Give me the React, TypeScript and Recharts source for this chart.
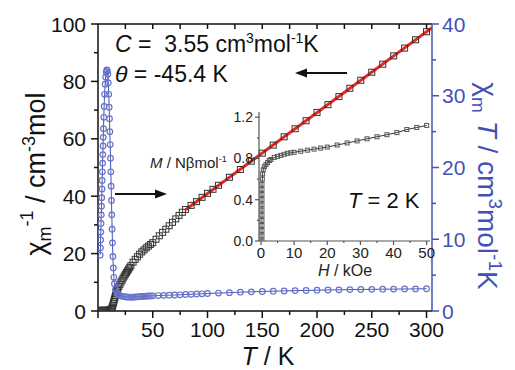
import React from 'react';
import { ComposedChart, LineChart, Line, XAxis, YAxis } from 'recharts';

// chi_m^-1 (left axis) vs T
const blackT = [2, 3, 4, 5, 6, 7, 8, 9, 10, 11, 12, 12.5, 13, 13.5, 14, 14.5, 15, 15.5, 16, 16.5, 17, 17.5, 18, 19, 20, 21, 22, 23, 24, 25, 26, 27, 28, 29, 30, 32, 34, 36, 38, 40, 42, 44, 46, 48, 50, 53, 56, 59, 62, 65, 68, 71, 74, 77, 80, 85, 90, 95, 100, 105, 110, 120, 130, 140, 150, 160, 170, 180, 190, 200, 210, 220, 230, 240, 250, 260, 270, 280, 290, 300];
const blackInv = [0.26, 0.25, 0.22, 0.2, 0.2, 0.22, 0.25, 0.26, 0.3, 0.42, 0.6, 0.9, 1.4, 2.0, 2.7, 3.4, 4.1, 4.8, 5.4, 6.0, 6.6, 7.1, 7.6, 8.5, 9.3, 10.1, 10.8, 11.5, 12.2, 12.8, 13.4, 14.0, 14.6, 15.2, 15.8, 17.0, 18.0, 18.9, 19.8, 20.6, 21.3, 22.0, 22.6, 23.2, 23.8, 25.0, 26.2, 27.4, 28.5, 29.7, 30.9, 32.1, 33.3, 34.4, 35.4, 36.8, 38.1, 39.6, 41.0, 42.4, 43.8, 46.6, 49.3, 52.2, 55.0, 57.8, 60.7, 63.5, 66.3, 69.2, 71.9, 74.7, 77.6, 80.4, 83.2, 86.0, 88.9, 91.6, 94.5, 97.3];

// chi_m T (right axis) vs T
const blueT = [2, 2.2, 2.4, 2.6, 2.8, 3, 3.2, 3.4, 3.6, 3.8, 4, 4.2, 4.4, 4.6, 4.8, 5, 5.3, 5.6, 6, 6.5, 7, 7.5, 8, 8.5, 9, 9.4, 9.8, 10.2, 10.5, 10.8, 11.1, 11.4, 11.7, 12, 12.3, 12.6, 12.9, 13.2, 13.6, 14, 14.5, 15, 16, 17, 18, 19, 20, 22, 24, 26, 28, 30, 32, 34, 36, 38, 40, 42, 44, 46, 48, 50, 55, 60, 65, 70, 75, 80, 85, 90, 95, 100, 110, 120, 130, 140, 150, 160, 170, 180, 190, 200, 210, 220, 230, 240, 250, 260, 270, 280, 290, 300];
const blueChiT = [7.8, 8.8, 9.9, 11.0, 12.2, 13.4, 14.6, 15.8, 17.0, 18.2, 19.4, 20.6, 21.8, 23.0, 24.2, 25.4, 27.0, 28.5, 30.2, 31.6, 32.6, 33.3, 33.6, 33.5, 33.0, 31.8, 30.2, 28.4, 26.8, 25.0, 23.2, 21.3, 19.4, 17.4, 15.4, 13.4, 11.4, 9.5, 7.6, 6.0, 4.7, 3.8, 3.0, 2.6, 2.4, 2.25, 2.15, 2.05, 2.0, 1.95, 1.93, 1.92, 1.93, 1.95, 1.97, 2.0, 2.02, 2.05, 2.07, 2.09, 2.1, 2.12, 2.15, 2.18, 2.2, 2.23, 2.26, 2.3, 2.33, 2.37, 2.4, 2.44, 2.5, 2.56, 2.62, 2.67, 2.72, 2.76, 2.8, 2.84, 2.87, 2.9, 2.93, 2.95, 2.98, 3.0, 3.02, 3.04, 3.05, 3.07, 3.08, 3.1];

// Curie-Weiss fit line end points
const fitT = [80, 305];
const fitInv = [35.3, 98.7];

// inset: M vs H at 2 K
const insetH = [0.3, 0.3, 0.3, 0.3, 0.3, 0.3, 0.3, 0.3, 0.3, 0.3, 0.3, 0.3, 0.4, 0.5, 0.7, 1, 1.5, 2, 2.5, 3, 4, 5, 6, 7, 8, 9, 10, 12, 14, 16, 18, 20, 23, 26, 29, 32, 35, 38, 41, 44, 47, 50];
const insetM = [0, 0.05, 0.1, 0.15, 0.2, 0.25, 0.3, 0.35, 0.4, 0.45, 0.5, 0.55, 0.6, 0.65, 0.69, 0.72, 0.74, 0.76, 0.78, 0.79, 0.81, 0.82, 0.83, 0.84, 0.85, 0.855, 0.86, 0.87, 0.88, 0.89, 0.9, 0.91, 0.93, 0.95, 0.97, 0.99, 1.01, 1.03, 1.05, 1.08, 1.1, 1.12];

const xTicks = [0, 25, 50, 75, 100, 125, 150, 175, 200, 225, 250, 275, 300];
const leftTicks = [0, 10, 20, 30, 40, 50, 60, 70, 80, 90, 100];
const rightTicks = [0, 5, 10, 15, 20, 25, 30, 35, 40];
const insetXTicks = [0, 5, 10, 15, 20, 25, 30, 35, 40, 45, 50];
const insetYTicks = [0, 0.2, 0.4, 0.6, 0.8, 1.0, 1.2];

const blackData = blackT.map((t, i) => ({ t, v: blackInv[i] }));
const blueData = blueT.map((t, i) => ({ t, v: blueChiT[i] }));
const fitData = fitT.map((t, i) => ({ t, v: fitInv[i] }));
const insetData = insetH.map((h, i) => ({ h, m: insetM[i] }));

const FONT = '"Liberation Sans", Arial, sans-serif';
const INK = '#111';
const BLUE = '#4352b6';
const CIRCLE = '#6672c9';
const RED = '#e8261e';
const GREY = '#555';

const BottomTick = (p: any) => {
  const v = p.payload.value;
  const major = v % 50 === 0;
  return (
    <g>
      <line x1={p.x} x2={p.x} y1={p.y} y2={p.y + (major ? 7 : 4)} stroke={INK} strokeWidth={1.5} />
      {major && v > 0 && (
        <text x={p.x} y={p.y + 26} textAnchor="middle" fontSize={21} fill={INK} fontFamily={FONT}>
          {v}
        </text>
      )}
    </g>
  );
};

const TopTick = (p: any) => (
  <line x1={p.x} x2={p.x} y1={p.y} y2={p.y + 5} stroke={INK} strokeWidth={1.5} />
);

const LeftTick = (p: any) => {
  const v = p.payload.value;
  const major = v % 20 === 0;
  return (
    <g>
      <line x1={p.x} x2={p.x - (major ? 7 : 4)} y1={p.y} y2={p.y} stroke={INK} strokeWidth={1.5} />
      {major && (
        <text x={p.x - 12} y={p.y} dy="0.36em" textAnchor="end" fontSize={21} fill={INK} fontFamily={FONT}>
          {v}
        </text>
      )}
    </g>
  );
};

const RightTick = (p: any) => {
  const v = p.payload.value;
  const major = v % 10 === 0;
  return (
    <g>
      <line x1={p.x} x2={p.x + (major ? 7 : 4)} y1={p.y} y2={p.y} stroke={BLUE} strokeWidth={1.5} />
      {major && (
        <text x={p.x + 10} y={p.y} dy="0.36em" textAnchor="start" fontSize={21} fill={BLUE} fontFamily={FONT}>
          {v}
        </text>
      )}
    </g>
  );
};

const InsetXTick = (p: any) => {
  const v = p.payload.value;
  const major = v % 10 === 0;
  return (
    <g>
      <line x1={p.x} x2={p.x} y1={p.y} y2={p.y + (major ? 4 : 2)} stroke={GREY} strokeWidth={1.2} />
      {major && (
        <text x={p.x} y={p.y + 17} textAnchor="middle" fontSize={15} fill="#222" fontFamily={FONT}>
          {v}
        </text>
      )}
    </g>
  );
};

const InsetYTick = (p: any) => {
  const v = p.payload.value;
  const major = Math.round(v * 10) % 4 === 0;
  return (
    <g>
      <line x1={p.x} x2={p.x - (major ? 4 : 2)} y1={p.y} y2={p.y} stroke={GREY} strokeWidth={1.2} />
      {major && (
        <text x={p.x - 6} y={p.y} dy="0.36em" textAnchor="end" fontSize={14} fill="#222" fontFamily={FONT}>
          {v.toFixed(1)}
        </text>
      )}
    </g>
  );
};

const squareDot = (size: number, color: string) => (p: any) => (
  <rect
    key={`sq-${p.index}`}
    x={p.cx - size / 2}
    y={p.cy - size / 2}
    width={size}
    height={size}
    fill="none"
    stroke={color}
    strokeWidth={1}
  />
);

const circleDot = (p: any) => (
  <circle key={`c-${p.index}`} cx={p.cx} cy={p.cy} r={2.8} fill="none" stroke={CIRCLE} strokeWidth={1.2} />
);

export default function App() {
  return (
    <div style={{ position: 'fixed', left: 0, top: 0, width: 515, height: 370, background: '#fff', fontFamily: FONT }}>
      <div style={{ position: 'absolute', left: 0, top: 0 }}>
        <ComposedChart width={515} height={370} margin={{ top: 19, right: 23, bottom: 29, left: 38 }}>
          <XAxis
            xAxisId="b"
            type="number"
            dataKey="t"
            domain={[0, 305]}
            ticks={xTicks}
            interval={0}
            allowDataOverflow
            tickSize={0}
            tickMargin={0}
            height={30}
            axisLine={{ stroke: INK, strokeWidth: 1.5 }}
            tickLine={false}
            tick={BottomTick}
          />
          <XAxis
            xAxisId="t"
            orientation="top"
            type="number"
            dataKey="t"
            domain={[0, 305]}
            ticks={xTicks.slice(1)}
            interval={0}
            allowDataOverflow
            tickSize={0}
            tickMargin={0}
            height={5}
            axisLine={{ stroke: INK, strokeWidth: 1.5 }}
            tickLine={false}
            tick={TopTick}
          />
          <YAxis
            yAxisId="L"
            type="number"
            domain={[0, 100]}
            ticks={leftTicks}
            interval={0}
            allowDataOverflow
            width={60}
            tickSize={0}
            tickMargin={0}
            axisLine={{ stroke: INK, strokeWidth: 1.5 }}
            tickLine={false}
            tick={LeftTick}
          />
          <YAxis
            yAxisId="R"
            orientation="right"
            type="number"
            domain={[0, 40]}
            ticks={rightTicks}
            interval={0}
            allowDataOverflow
            width={60}
            tickSize={0}
            tickMargin={0}
            axisLine={{ stroke: BLUE, strokeWidth: 1.5 }}
            tickLine={false}
            tick={RightTick}
          />
          <Line
            xAxisId="b"
            yAxisId="L"
            data={blackData}
            dataKey="v"
            stroke="none"
            dot={squareDot(6, '#333')}
            activeDot={false}
            isAnimationActive={false}
          />
          <Line
            xAxisId="b"
            yAxisId="R"
            data={blueData}
            dataKey="v"
            stroke={BLUE}
            strokeWidth={1}
            dot={circleDot}
            activeDot={false}
            isAnimationActive={false}
          />
          <Line
            xAxisId="b"
            yAxisId="L"
            data={fitData}
            dataKey="v"
            stroke={RED}
            strokeWidth={3}
            dot={false}
            activeDot={false}
            isAnimationActive={false}
          />
        </ComposedChart>
      </div>

      <div style={{ position: 'absolute', left: 215, top: 100 }}>
        <LineChart width={225} height={175} margin={{ top: 12, right: 10, bottom: 14, left: 4 }}>
          <XAxis
            type="number"
            dataKey="h"
            domain={[-0.6, 51]}
            ticks={insetXTicks}
            interval={0}
            allowDataOverflow
            tickSize={0}
            tickMargin={0}
            height={20}
            axisLine={{ stroke: GREY, strokeWidth: 1.2 }}
            tickLine={false}
            tick={InsetXTick}
          />
          <YAxis
            type="number"
            domain={[0, 1.25]}
            ticks={insetYTicks}
            interval={0}
            allowDataOverflow
            width={40}
            tickSize={0}
            tickMargin={0}
            axisLine={{ stroke: GREY, strokeWidth: 1.2 }}
            tickLine={false}
            tick={InsetYTick}
          />
          <Line
            data={insetData}
            dataKey="m"
            stroke="#333"
            strokeWidth={1}
            dot={squareDot(4, '#555')}
            activeDot={false}
            isAnimationActive={false}
          />
        </LineChart>
      </div>

      <svg
        width={515}
        height={370}
        style={{ position: 'absolute', left: 0, top: 0, pointerEvents: 'none', fontFamily: FONT }}
      >
        <text x={115} y={52} fontSize={23} fill={INK}>
          <tspan fontStyle="italic">C</tspan>
          {' =\u00a0\u00a03.55 cm'}
          <tspan dy={-9} fontSize={14}>3</tspan>
          <tspan dy={9}>mol</tspan>
          <tspan dy={-9} fontSize={14}>-1</tspan>
          <tspan dy={9}>K</tspan>
        </text>
        <text x={115} y={82} fontSize={23} fill={INK}>
          <tspan fontStyle="italic">θ</tspan> = -45.4 K
        </text>

        <line x1={347} y1={73} x2={305} y2={73} stroke={INK} strokeWidth={2.2} />
        <polygon points="295,73 307,68.5 307,77.5" fill={INK} />
        <line x1={115} y1={194} x2={157} y2={194} stroke={INK} strokeWidth={2.2} />
        <polygon points="167,194 155,189.5 155,198.5" fill={INK} />

        <text x={348} y={208} fontSize={22} fill={INK}>
          <tspan fontStyle="italic">T</tspan> = 2 K
        </text>

        <text x={150} y={168} fontSize={15} fill="#222">
          <tspan fontStyle="italic">M</tspan> / Nβmol
          <tspan dy={-6} fontSize={9}>-1</tspan>
        </text>
        <text x={345} y={276} fontSize={16} fill="#222" textAnchor="middle">
          <tspan fontStyle="italic">H</tspan> / kOe
        </text>

        <text x={268} y={365} fontSize={25} fill={INK} textAnchor="middle">
          <tspan fontStyle="italic">T</tspan> / K
        </text>

        <text transform="translate(45,174) rotate(-90)" fontSize={27} fill={INK} textAnchor="middle">
          χ<tspan dy={6} fontSize={18}>m</tspan>
          <tspan dy={-18} fontSize={18}>-1</tspan>
          <tspan dy={12}> / cm</tspan>
          <tspan dy={-10} fontSize={18}>-3</tspan>
          <tspan dy={10}>mol</tspan>
        </text>

        <text transform="translate(478,186) rotate(90)" fontSize={28} fill={BLUE} textAnchor="middle">
          χ<tspan dy={6} fontSize={19}>m</tspan>
          <tspan dy={-6}> </tspan>
          <tspan fontStyle="italic">T</tspan> / cm
          <tspan dy={-11} fontSize={19}>3</tspan>
          <tspan dy={11}>mol</tspan>
          <tspan dy={-11} fontSize={19}>-1</tspan>
          <tspan dy={11}>K</tspan>
        </text>
      </svg>
    </div>
  );
}
